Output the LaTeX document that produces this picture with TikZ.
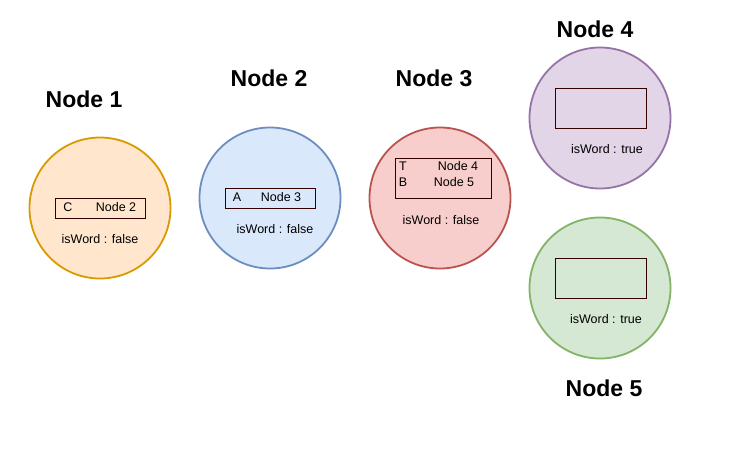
\documentclass[tikz,border=0pt]{standalone}
\usepackage{fontspec}
\setmainfont{Liberation Sans}

\definecolor{orangefill}{HTML}{FFE6CC}
\definecolor{orangeline}{HTML}{D79B00}
\definecolor{bluefill}{HTML}{DAE8FC}
\definecolor{blueline}{HTML}{6C8EBF}
\definecolor{redfill}{HTML}{F8CECC}
\definecolor{redline}{HTML}{B85450}
\definecolor{purplefill}{HTML}{E1D5E7}
\definecolor{purpleline}{HTML}{9673A6}
\definecolor{greenfill}{HTML}{D5E8D4}
\definecolor{greenline}{HTML}{82B366}
\definecolor{boxline}{HTML}{330000}

\tikzset{
	trienode/.style={circle, minimum size=141pt, inner sep=0pt, line width=1.8pt},
	childbox/.style={rectangle, draw=boxline, line width=0.9pt, minimum width=90pt, minimum height=20pt, inner sep=0pt},
	nodetitle/.style={font=\fontsize{23}{27}\selectfont\bfseries, inner sep=0pt},
	celltext/.style={font=\fontsize{12.5}{15}\selectfont, inner sep=0pt},
}

\begin{document}
\begin{tikzpicture}[x=1pt, y=-1pt]
	\useasboundingbox (0,0) rectangle (752,458);

	% Node 1
	\node[trienode, draw=orangeline, fill=orangefill] (n1) at (100,208) {};
	\node[childbox] (b1) at (100,208) {};
	\node[celltext] (k1) at (68,207) {C};
	\node[celltext] (v1) at (116,207) {Node 2};
	\node[celltext] (w1) at (100,239) {isWord : false};
	\node[nodetitle] (l1) at (84,99) {Node 1};

	% Node 2
	\node[trienode, draw=blueline, fill=bluefill] (n2) at (270,198) {};
	\node[childbox] (b2) at (270,198) {};
	\node[celltext] (k2) at (237,197) {A};
	\node[celltext] (v2) at (281,197) {Node 3};
	\node[celltext] (w2) at (275,229) {isWord : false};
	\node[nodetitle] (l2) at (269,78) {Node 2};

	% Node 3
	\node[trienode, draw=redline, fill=redfill] (n3) at (440,198) {};
	\node[childbox, minimum width=96pt, minimum height=40pt] (b3) at (443,178) {};
	\node[celltext] (k3a) at (403,166) {T};
	\node[celltext] (v3a) at (458,166) {Node 4};
	\node[celltext] (k3b) at (403,182) {B};
	\node[celltext] (v3b) at (454,182) {Node 5};
	\node[celltext] (w3) at (441,220) {isWord : false};
	\node[nodetitle] (l3) at (434,78) {Node 3};

	% Node 4
	\node[trienode, draw=purpleline, fill=purplefill] (n4) at (600,118) {};
	\node[childbox, minimum width=91pt, minimum height=40pt] (b4) at (600.5,108) {};
	\node[celltext] (w4) at (607,149) {isWord : true};
	\node[nodetitle] (l4) at (595,29) {Node 4};

	% Node 5
	\node[trienode, draw=greenline, fill=greenfill] (n5) at (600,288) {};
	\node[childbox, minimum width=91pt, minimum height=40pt] (b5) at (600.5,278) {};
	\node[celltext] (w5) at (606,319) {isWord : true};
	\node[nodetitle] (l5) at (604,388) {Node 5};
\end{tikzpicture}
\end{document}
